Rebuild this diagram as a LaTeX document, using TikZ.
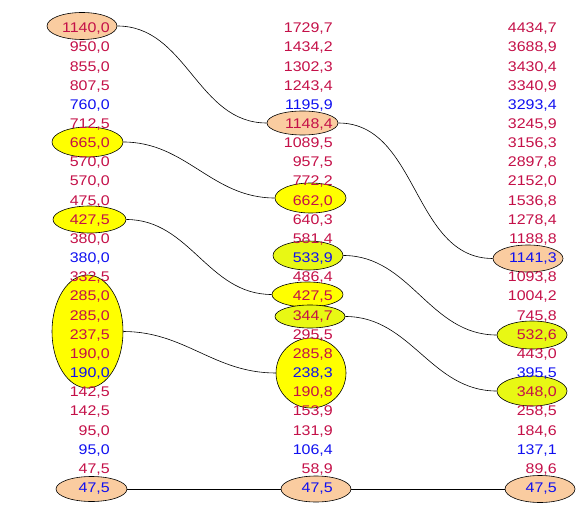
\documentclass[tikz,border=0pt]{standalone}
\usepackage{fontspec}
\setmainfont{Liberation Sans}[FakeStretch=1.14]
\usetikzlibrary{shapes.geometric}
\definecolor{crim}{RGB}{196,16,72}
\definecolor{bluec}{RGB}{16,16,240}
\definecolor{peachc}{RGB}{250,204,160}
\definecolor{yelc}{RGB}{255,255,0}
\definecolor{ygrc}{RGB}{232,248,20}
\begin{document}
\begin{tikzpicture}[x=1pt,y=-1pt,
  bub/.style={ellipse,draw=black,line width=0.6pt,inner sep=0pt},
  peach/.style={bub,fill=peachc},
  yel/.style={bub,fill=yelc},
  ygr/.style={bub,fill=ygrc},
  val/.style={anchor=base east,inner sep=0pt,font=\fontsize{14}{14}\selectfont},
  cr/.style={val,text=crim},
  cb/.style={val,text=bluec},
  link/.style={draw=black,line width=0.6pt}]
\useasboundingbox (0,0) rectangle (577,510);
% column 1 ellipses
\node[peach,minimum width=70pt,minimum height=27pt] (a1) at (82,26) {};
\node[yel,minimum width=71pt,minimum height=30pt] (a2) at (87.5,142) {};
\node[yel,minimum width=73pt,minimum height=27pt] (a3) at (89.5,219.5) {};
\node[yel,minimum width=71pt,minimum height=113pt] (a4) at (87.5,331.5) {};
\node[peach,minimum width=71pt,minimum height=25pt] (a5) at (91.5,489) {};
% column 2 ellipses
\node[peach,minimum width=71pt,minimum height=24pt] (b1) at (302.5,123) {};
\node[yel,minimum width=71pt,minimum height=30pt] (b2) at (310.5,198) {};
\node[ygr,minimum width=70pt,minimum height=29pt] (b3) at (308,255.5) {};
\node[yel,minimum width=71pt,minimum height=25pt] (b4) at (307.5,294.5) {};
\node[ygr,minimum width=70pt,minimum height=23pt] (b5) at (310,316.5) {};
\node[yel,minimum width=70pt,minimum height=70pt] (b6) at (311,373) {};
\node[peach,minimum width=70pt,minimum height=26pt] (b7) at (316,489) {};
% column 3 ellipses
\node[peach,minimum width=70pt,minimum height=27pt] (c1) at (528,258.5) {};
\node[ygr,minimum width=70pt,minimum height=28pt] (c2) at (532,335) {};
\node[ygr,minimum width=70pt,minimum height=30pt] (c3) at (532,391) {};
\node[peach,minimum width=70pt,minimum height=27pt] (c4) at (540,489) {};
% connectors
\draw[link] (a1.east) to[out=0,in=180] (b1.west);
\draw[link] (b1.east) to[out=0,in=180] (c1.west);
\draw[link] (a2.east) to[out=0,in=180] (b2.west);
\draw[link] (a3.east) to[out=0,in=180] (b4.west);
\draw[link] (a4.east) to[out=0,in=180] (b6.west);
\draw[link] (b3.east) to[out=0,in=180] (c2.west);
\draw[link] (b5.east) to[out=0,in=180] (c3.west);
\draw[link] (a5.east) -- (b7.west);
\draw[link] (b7.east) -- (c4.west);
% values
\foreach \v/\col [count=\i from 0] in {{1140,0}/cr,{950,0}/cr,{855,0}/cr,{807,5}/cr,{760,0}/cb,{712,5}/cr,{665,0}/cr,{570,0}/cr,{570,0}/cr,{475,0}/cr,{427,5}/cr,{380,0}/cr,{380,0}/cb,{332,5}/cr,{285,0}/cr,{285,0}/cr,{237,5}/cr,{190,0}/cr,{190,0}/cb,{142,5}/cr,{142,5}/cr,{95,0}/cr,{95,0}/cb,{47,5}/cr,{47,5}/cb}
  \node[\col] (p\i) at (110,{32.7+19.16*\i}) {\v};
\foreach \v/\col [count=\i from 0] in {{1729,7}/cr,{1434,2}/cr,{1302,3}/cr,{1243,4}/cr,{1195,9}/cb,{1148,4}/cr,{1089,5}/cr,{957,5}/cr,{772,2}/cr,{662,0}/cr,{640,3}/cr,{581,4}/cr,{533,9}/cb,{486,4}/cr,{427,5}/cr,{344,7}/cr,{295,5}/cr,{285,8}/cr,{238,3}/cb,{190,8}/cr,{153,9}/cr,{131,9}/cr,{106,4}/cb,{58,9}/cr,{47,5}/cb}
  \node[\col] (q\i) at (333,{32.7+19.16*\i}) {\v};
\foreach \v/\col [count=\i from 0] in {{4434,7}/cr,{3688,9}/cr,{3430,4}/cr,{3340,9}/cr,{3293,4}/cb,{3245,9}/cr,{3156,3}/cr,{2897,8}/cr,{2152,0}/cr,{1536,8}/cr,{1278,4}/cr,{1188,8}/cr,{1141,3}/cb,{1093,8}/cr,{1004,2}/cr,{745,8}/cr,{532,6}/cr,{443,0}/cr,{395,5}/cb,{348,0}/cr,{258,5}/cr,{184,6}/cr,{137,1}/cb,{89,6}/cr,{47,5}/cb}
  \node[\col] (s\i) at (557,{32.7+19.16*\i}) {\v};
\end{tikzpicture}
\end{document}
